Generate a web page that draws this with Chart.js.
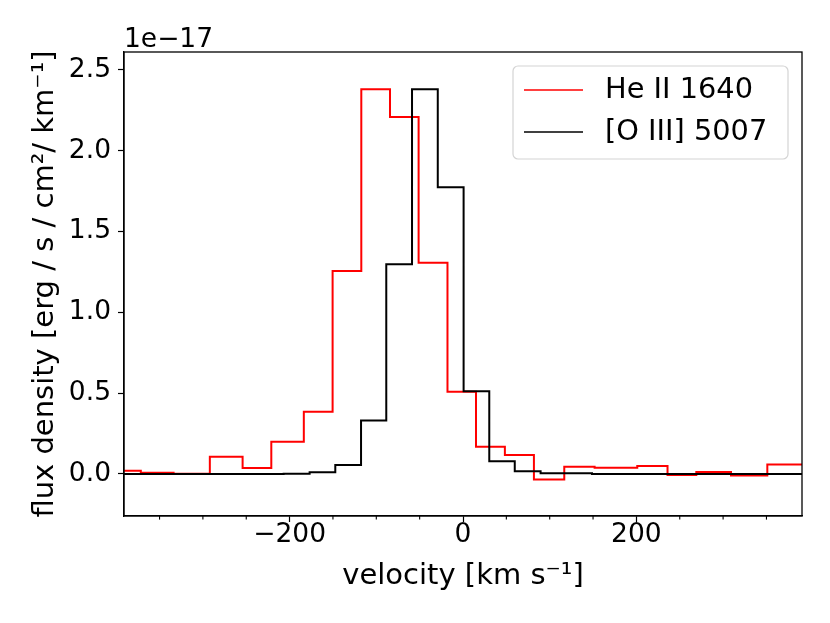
<!DOCTYPE html>
<html>
<head>
<meta charset="utf-8">
<script src="https://cdn.jsdelivr.net/npm/chart.js@4.4.0/dist/chart.umd.min.js"></script>
<style>
  html, body { margin: 0; padding: 0; background: #fff; }
  #wrap { width: 830px; height: 623px; }
</style>
</head>
<body>
<div id="wrap"><canvas id="fluxChart"></canvas></div>
<script>
// flux density in units of 1e-17 erg / s / cm2 / km-1
// bin edges in km/s, the last edge closes the final bin
var heEdges = [-391, -371.6, -333.8, -292.0, -254.2, -221.1, -183.6, -150.4, -117.3, -84.2, -51.2, -17.9,
               15.0, 48.3, 81.8, 116.8, 151.8, 201.0, 235.9, 269.1, 309.1, 351.0, 391];
var heFlux = [0.020, 0.008, 0.002, 0.107, 0.037, 0.200, 0.385, 1.256, 2.379, 2.208, 1.306, 0.508,
              0.169, 0.117, -0.035, 0.045, 0.039, 0.050, -0.006, 0.012, -0.010, 0.058];

var oiiiEdges = [-391, -206.9, -176.9, -147.3, -117.6, -88.5, -58.8, -29.1, 0.7, 30.3, 59.7, 89.5, 148.8, 391];
var oiiiFlux = [0.000, 0.002, 0.010, 0.055, 0.330, 1.297, 2.380, 1.774, 0.511, 0.079, 0.017, 0.004, 0.000];

var xMajor = [-200, 0, 200];
var xMinor = [-350, -300, -250, -150, -100, -50, 50, 100, 150, 250, 300, 350];
var yTicks = [0, 0.5, 1.0, 1.5, 2.0, 2.5];

var FONT = 'DejaVu Sans';

// one point per left edge plus the closing edge, drawn as steps
function steps(edges, vals) {
  return edges.map(function (e, i) {
    return { x: e, y: vals[Math.min(i, vals.length - 1)] };
  });
}

function minus(v) {
  return v < 0 ? '\u2212' + Math.abs(v) : '' + v;
}

// frame, minor ticks, offset text and legend
const extras = {
  id: 'extras',
  afterDraw(chart) {
    const ctx = chart.ctx;
    const a = chart.chartArea;
    const xs = chart.scales.x;
    ctx.save();
    ctx.strokeStyle = '#000';
    ctx.lineWidth = 1.3;
    ctx.strokeRect(a.left, a.top, a.right - a.left, a.bottom - a.top);

    ctx.lineWidth = 1.1;
    xMinor.forEach(function (v) {
      const px = xs.getPixelForValue(v);
      ctx.beginPath();
      ctx.moveTo(px, a.bottom);
      ctx.lineTo(px, a.bottom + 3.6);
      ctx.stroke();
    });

    ctx.fillStyle = '#000';
    ctx.font = '26.5px "' + FONT + '"';
    ctx.textAlign = 'left';
    ctx.textBaseline = 'alphabetic';
    ctx.fillText('1e\u221217', a.left, a.top - 5);

    // legend box
    const bx = a.right - 289, by = a.top + 14, bw = 275, bh = 93;
    ctx.beginPath();
    ctx.roundRect(bx, by, bw, bh, 5);
    ctx.fillStyle = 'rgba(255,255,255,0.8)';
    ctx.fill();
    ctx.strokeStyle = '#d4d4d4';
    ctx.lineWidth = 1.2;
    ctx.stroke();

    ctx.font = '28.8px "' + FONT + '"';
    ctx.textBaseline = 'middle';
    [chart.data.datasets[0], chart.data.datasets[1]].forEach(function (ds, i) {
      const ly = by + 24 + i * 42;
      ctx.strokeStyle = ds.borderColor;
      ctx.lineWidth = 1.6;
      ctx.beginPath();
      ctx.moveTo(bx + 11, ly);
      ctx.lineTo(bx + 70, ly);
      ctx.stroke();
      ctx.fillStyle = '#000';
      ctx.fillText(ds.label, bx + 92, ly + 1);
    });
    ctx.restore();
  }
};

var ctx1 = document.getElementById('fluxChart').getContext('2d');
var fluxChart = new Chart(ctx1, {
  type: 'line',
  data: {
    datasets: [{
      label: 'He II 1640',
      data: steps(heEdges, heFlux),
      borderColor: '#ff0000',
      borderWidth: 2,
      stepped: true,
      pointRadius: 0,
      order: 2
    }, {
      label: '[O III] 5007',
      data: steps(oiiiEdges, oiiiFlux),
      borderColor: '#000000',
      borderWidth: 2,
      stepped: true,
      pointRadius: 0,
      order: 1
    }]
  },
  options: {
    responsive: true,
    maintainAspectRatio: false,
    animation: false,
    devicePixelRatio: 1,
    layout: { padding: { top: 52, right: 28, left: 0, bottom: 0 } },
    plugins: {
      legend: { display: false },
      tooltip: { enabled: false }
    },
    scales: {
      x: {
        type: 'linear',
        min: -391,
        max: 391,
        afterBuildTicks: function (s) { s.ticks = xMajor.map(function (v) { return { value: v }; }); },
        afterFit: function (s) { s.height = 107; },
        ticks: {
          callback: function (v) { return minus(v); },
          color: '#000',
          font: { family: FONT, size: 26.5 },
          padding: -3,
          maxRotation: 0
        },
        grid: { drawOnChartArea: false, tickLength: 6, tickColor: '#000', tickWidth: 1.2 },
        border: { color: '#000', width: 1.3 },
        title: {
          display: true,
          text: 'velocity [km s\u207B\u00B9]',
          color: '#000',
          font: { family: FONT, size: 29 },
          padding: { top: 0, bottom: 29 }
        }
      },
      y: {
        type: 'linear',
        min: -0.26,
        max: 2.61,
        afterBuildTicks: function (s) { s.ticks = yTicks.map(function (v) { return { value: v }; }); },
        afterFit: function (s) { s.width = 124; },
        ticks: {
          callback: function (v) { return v.toFixed(1); },
          color: '#000',
          font: { family: FONT, size: 26.5 },
          padding: 7
        },
        grid: { drawOnChartArea: false, tickLength: 6, tickColor: '#000', tickWidth: 1.2 },
        border: { color: '#000', width: 1.3 },
        title: {
          display: true,
          text: 'flux density [erg / s / cm\u00B2/ km\u207B\u00B9]',
          color: '#000',
          font: { family: FONT, size: 29 },
          padding: { top: 28, bottom: 0 }
        }
      }
    }
  },
  plugins: [extras]
});
</script>
</body>
</html>
